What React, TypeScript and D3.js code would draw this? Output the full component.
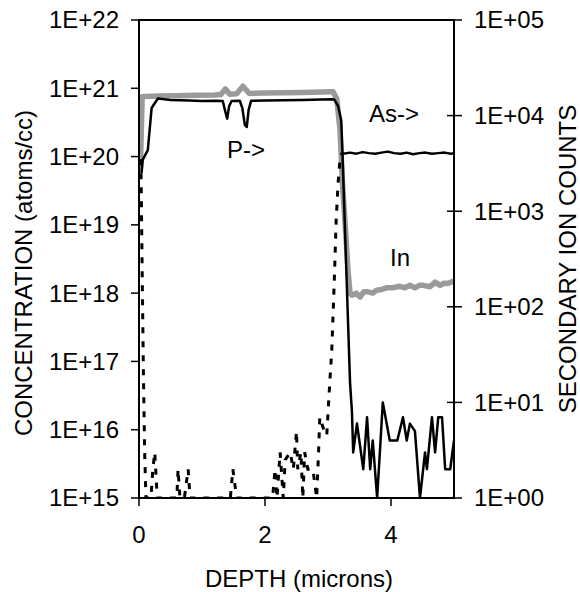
import React from "react";
import * as d3 from "d3";

// ---- Data ----
// In (gray, left axis, atoms/cc)
const inDepth = [0.02, 0.05, 0.1, 0.3, 0.6, 0.9, 1.2, 1.3, 1.37, 1.44, 1.55, 1.65, 1.75, 2.0, 2.3, 2.6, 2.9, 3.05, 3.08, 3.14, 3.19, 3.23, 3.28, 3.32, 3.35, 3.38, 3.45, 3.51, 3.57, 3.62, 3.71, 3.77, 3.83, 3.94, 4.03, 4.14, 4.22, 4.3, 4.38, 4.45, 4.51, 4.62, 4.7, 4.78, 4.84, 4.89, 5.0];
const inConc = [6e19, 7.5e20, 7.6e20, 7.7e20, 7.8e20, 7.9e20, 8.0e20, 8.1e20, 9.8e20, 8.2e20, 8.3e20, 1.07e21, 8.4e20, 8.5e20, 8.6e20, 8.7e20, 8.8e20, 8.9e20, 8.9e20, 7e20, 2.5e20, 4e19, 8e18, 2e18, 1.0e18, 9.3e17, 1.0e18, 8.8e17, 1.05e18, 1.05e18, 1.0e18, 1.1e18, 1.12e18, 1.2e18, 1.2e18, 1.26e18, 1.2e18, 1.3e18, 1.2e18, 1.3e18, 1.3e18, 1.24e18, 1.45e18, 1.3e18, 1.4e18, 1.38e18, 1.5e18];

// P (black solid, right axis, counts)
const pDepth = [0.04, 0.06, 0.14, 0.2, 0.3, 0.5, 0.8, 1.0, 1.2, 1.33, 1.37, 1.4, 1.43, 1.47, 1.6, 1.64, 1.68, 1.71, 1.74, 1.78, 2.0, 2.3, 2.6, 2.9, 3.05, 3.1, 3.16, 3.21, 3.23, 3.26, 3.29, 3.32, 3.35, 3.38, 3.4, 3.46, 3.56, 3.62, 3.67, 3.71, 3.78, 3.87, 3.98, 4.1, 4.19, 4.25, 4.3, 4.38, 4.46, 4.54, 4.57, 4.65, 4.7, 4.75, 4.81, 4.86, 4.94, 5.0];
const pCounts = [2500, 3470, 4360, 12000, 15100, 14600, 14400, 14200, 14300, 14200, 11000, 9300, 12500, 14200, 14300, 12000, 8000, 7600, 11500, 14300, 14400, 14500, 14600, 14700, 14800, 14700, 12600, 8900, 4000, 1000, 250, 63, 16, 8, 3, 6, 2, 7, 2, 4, 1, 10, 4, 4, 7, 4, 6, 5, 1, 3, 2, 7, 3, 7, 7, 2, 2, 4];

// As (black dotted in the top layer, right axis, counts)
const asDotDepth = [0.03, 0.05, 0.07, 0.09, 0.11, 0.15, 0.19, 0.22, 0.25, 0.29, 0.33, 0.6, 0.62, 0.65, 0.72, 0.78, 0.81, 0.86, 1.45, 1.49, 1.55, 1.6, 2.12, 2.16, 2.19, 2.24, 2.29, 2.32, 2.4, 2.45, 2.5, 2.52, 2.57, 2.6, 2.63, 2.68, 2.72, 2.76, 2.82, 2.85, 2.87, 2.94, 2.98, 3.03, 3.06, 3.1, 3.13, 3.16, 3.19, 3.22];
const asDotCounts = [3500, 250, 20, 3, 1, 1, 1, 2, 3, 1, 1, 1, 2, 1, 1, 2, 1, 1, 1, 2, 1, 1, 1, 2, 1, 3, 1, 2.5, 3, 2, 5, 2, 3, 1, 3, 2, 2, 2, 1, 3, 7, 5, 4.5, 17, 35, 190, 810, 1950, 3450, 4070];

// As (black solid in the lower layer, right axis, counts)
const asDepth = [3.24, 3.35, 3.45, 3.55, 3.65, 3.75, 3.85, 3.95, 4.05, 4.15, 4.25, 4.35, 4.45, 4.55, 4.65, 4.75, 4.85, 4.95, 5.0];
const asCounts = [4000, 4100, 4000, 4150, 4050, 4000, 4100, 4200, 4050, 4000, 4100, 3950, 4050, 4100, 4000, 4050, 4100, 4000, 4050];

const xTicks = [0, 2, 4];
const leftTicks = [1e15, 1e16, 1e17, 1e18, 1e19, 1e20, 1e21, 1e22];
const leftTickLabels = ["1E+15", "1E+16", "1E+17", "1E+18", "1E+19", "1E+20", "1E+21", "1E+22"];
const rightTicks = [1, 10, 100, 1000, 10000, 100000];
const rightTickLabels = ["1E+00", "1E+01", "1E+02", "1E+03", "1E+04", "1E+05"];

const FONT = "'Liberation Sans', Arial, sans-serif";

export default function App() {
  const W = 580, H = 592;
  const left = 139, right = 454, top = 20, bottom = 498;
  const x = d3.scaleLinear().domain([0, 5]).range([left, right]);
  const yL = d3.scaleLog().domain([1e15, 1e22]).range([bottom, top]);
  const yR = d3.scaleLog().domain([1, 1e5]).range([bottom, top]);

  const lineL = (xs: number[], ys: number[]) =>
    d3.line<number>().x((_, i) => x(xs[i])).y((_, i) => yL(ys[i]))(xs) || "";
  const lineR = (xs: number[], ys: number[]) =>
    d3.line<number>().x((_, i) => x(xs[i])).y((_, i) => yR(ys[i]))(xs) || "";

  const fs = 24;
  return (
    <svg width={W} height={H} style={{ position: "absolute", left: 0, top: 0, background: "#fff" }}
      fontFamily={FONT}>
      <rect x={0} y={0} width={W} height={H} fill="#fff" />
      <defs>
        <clipPath id="plot">
          <rect x={left} y={top} width={right - left} height={bottom - top + 1} />
        </clipPath>
      </defs>
      <g clipPath="url(#plot)">
        <path d={lineL(inDepth, inConc)} fill="none" stroke="#9a9a9a" strokeWidth={5.5} strokeLinejoin="round" />
        <path d={lineR(asDotDepth, asDotCounts)} fill="none" stroke="#000" strokeWidth={3} strokeDasharray="6,8" />
        <path d={lineR(asDepth, asCounts)} fill="none" stroke="#000" strokeWidth={2.5} strokeLinejoin="round" />
        <path d={lineR(pDepth, pCounts)} fill="none" stroke="#000" strokeWidth={2.5} strokeLinejoin="round" />
      </g>
      {/* frame */}
      <rect x={left} y={top} width={right - left} height={bottom - top} fill="none" stroke="#000" strokeWidth={2} />
      {/* left ticks */}
      {leftTicks.map((t, i) => (
        <g key={"l" + i}>
          <line x1={left - 8} x2={left} y1={yL(t)} y2={yL(t)} stroke="#000" strokeWidth={1.5} />
          <text x={119} y={yL(t)} dy="0.35em" textAnchor="end" fontSize={fs}>{leftTickLabels[i]}</text>
        </g>
      ))}
      {/* right ticks */}
      {rightTicks.map((t, i) => (
        <g key={"r" + i}>
          <line x1={right - 7} x2={right + 8} y1={yR(t)} y2={yR(t)} stroke="#000" strokeWidth={1.5} />
          <text x={474} y={yR(t)} dy="0.35em" textAnchor="start" fontSize={fs}>{rightTickLabels[i]}</text>
        </g>
      ))}
      {/* x ticks */}
      {xTicks.map((t, i) => (
        <g key={"x" + i}>
          <line x1={x(t)} x2={x(t)} y1={bottom} y2={bottom + 8} stroke="#000" strokeWidth={1.5} />
          <text x={x(t)} y={543} textAnchor="middle" fontSize={fs}>{t}</text>
        </g>
      ))}
      <text x={299} y={587} textAnchor="middle" fontSize={fs}>DEPTH (microns)</text>
      <text transform={`translate(32,273) rotate(-90)`} textAnchor="middle" fontSize={fs}>CONCENTRATION (atoms/cc)</text>
      <text transform={`translate(576,259) rotate(-90)`} textAnchor="middle" fontSize={fs}>SECONDARY ION COUNTS</text>
      <text x={227} y={158} fontSize={fs}>P-&gt;</text>
      <text x={369} y={122} fontSize={fs}>As-&gt;</text>
      <text x={390} y={266} fontSize={fs}>In</text>
    </svg>
  );
}
